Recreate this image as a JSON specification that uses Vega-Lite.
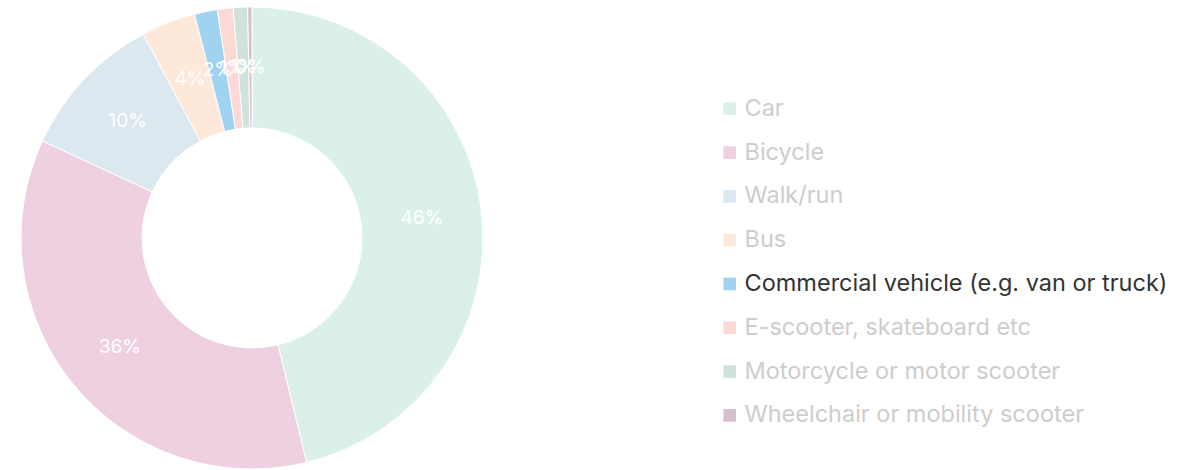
{
  "$schema": "https://vega.github.io/schema/vega-lite/v6.json",
  "width": 504,
  "height": 470,
  "padding": {"left": 0, "top": 3, "right": 0, "bottom": 0},
  "background": "#ffffff",
  "config": {"view": {"stroke": null}, "font": "Inter"},
  "data": {
    "values": [
      {"mode": "Car", "share": 0.462},
      {"mode": "Bicycle", "share": 0.357},
      {"mode": "Walk/run", "share": 0.103},
      {"mode": "Bus", "share": 0.038},
      {"mode": "Commercial vehicle (e.g. van or truck)", "share": 0.016},
      {"mode": "E-scooter, skateboard etc", "share": 0.011},
      {"mode": "Motorcycle or motor scooter", "share": 0.010},
      {"mode": "Wheelchair or mobility scooter", "share": 0.003}
    ]
  },
  "encoding": {
    "theta": {"field": "share", "type": "quantitative", "stack": true},
    "order": {"field": "share", "type": "quantitative", "sort": "descending"}
  },
  "layer": [
    {
      "mark": {"type": "arc", "radius": 231, "innerRadius": 110, "stroke": "#ffffff", "strokeWidth": 1},
      "encoding": {
        "color": {
          "field": "mode",
          "type": "nominal",
          "sort": ["Car", "Bicycle", "Walk/run", "Bus", "Commercial vehicle (e.g. van or truck)", "E-scooter, skateboard etc", "Motorcycle or motor scooter", "Wheelchair or mobility scooter"],
          "scale": {
            "domain": ["Car", "Bicycle", "Walk/run", "Bus", "Commercial vehicle (e.g. van or truck)", "E-scooter, skateboard etc", "Motorcycle or motor scooter", "Wheelchair or mobility scooter"],
            "range": ["#dcf0ea", "#efd0e0", "#dce8f0", "#fde8d9", "#9fd3ef", "#fcd9d5", "#cfe3dc", "#d8bfcc"]
          },
          "legend": {
            "title": null,
            "orient": "none",
            "legendX": 718,
            "legendY": 94,
            "padding": 0,
            "symbolType": "square",
            "symbolSize": 160,
            "symbolStrokeWidth": 0,
            "labelFontSize": 23.5,
            "labelFont": "Inter",
            "labelOffset": 3,
            "labelLimit": 600,
            "rowPadding": 18.8,
            "labelColor": {"expr": "datum.value === 'Commercial vehicle (e.g. van or truck)' ? '#333333' : '#cdcdcd'"}
          }
        }
      }
    },
    {
      "mark": {"type": "text", "radius": 171, "fill": "#ffffff", "fontSize": 19, "font": "Inter"},
      "encoding": {
        "text": {"field": "share", "type": "quantitative", "format": ".0%"}
      }
    }
  ]
}
